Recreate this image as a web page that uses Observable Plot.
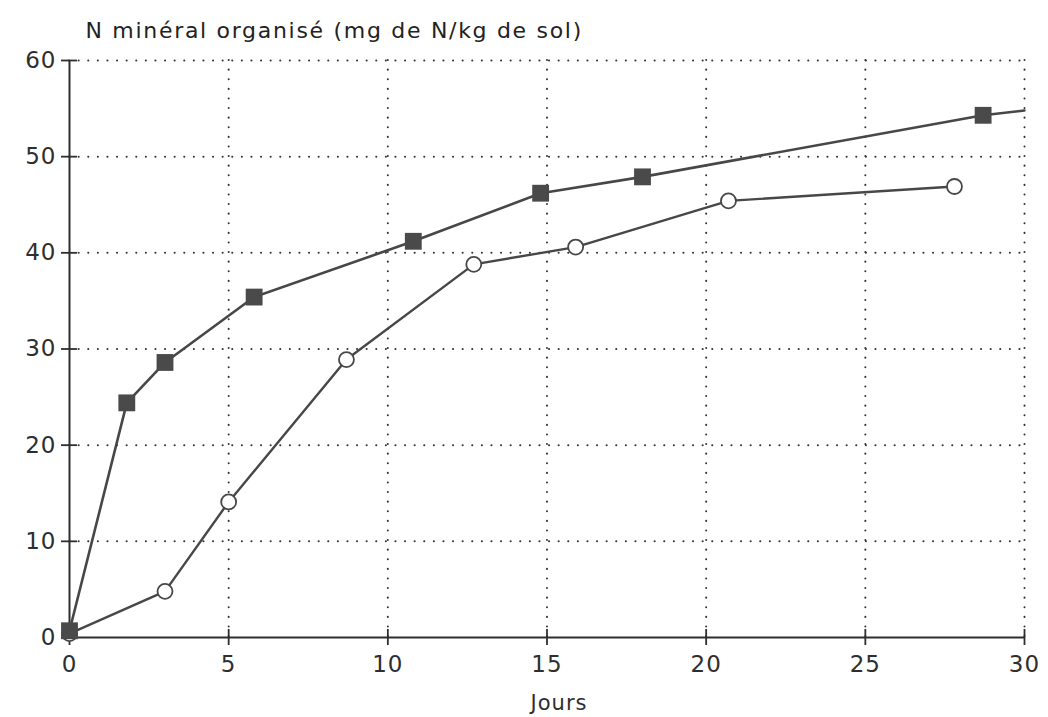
<!DOCTYPE html>
<html>
<head>
<meta charset="utf-8">
<script src="https://cdn.jsdelivr.net/npm/d3@7"></script>
<script src="https://cdn.jsdelivr.net/npm/@observablehq/plot@0.6"></script>
<style>
  html, body { margin: 0; padding: 0; background: #fff; }
  #chart svg { display: block; }
</style>
</head>
<body>
<div id="chart"></div>
<script>
// Data
const squareDays = [0, 1.8, 3.0, 5.8, 10.8, 14.8, 18.0, 28.7];
const squareVals = [0.7, 24.4, 28.6, 35.4, 41.2, 46.2, 47.9, 54.3];
const squareTailDay = 30;      // line continues to the right frame edge
const squareTailVal = 54.8;

const circleDays = [0, 3.0, 5.0, 8.7, 12.7, 15.9, 20.7, 27.8];
const circleVals = [0.4, 4.8, 14.1, 28.9, 38.8, 40.6, 45.4, 46.9];

const xTicks = [0, 5, 10, 15, 20, 25, 30];
const yTicks = [0, 10, 20, 30, 40, 50, 60];

const titleText = "N minéral organisé (mg de N/kg de sol)";
const xLabel = "Jours";

const squares = squareDays.map((d, i) => ({day: d, val: squareVals[i]}));
const squareLine = [...squares, {day: squareTailDay, val: squareTailVal}];
const circles = circleDays.map((d, i) => ({day: d, val: circleVals[i]}));

const ink = "#2e2e2e";
const lineInk = "#474747";
const font = "DejaVu Sans, sans-serif";

const chart = Plot.plot({
  width: 1048,
  height: 717,
  marginLeft: 69,
  marginRight: 24,
  marginTop: 60,
  marginBottom: 80,
  style: {fontFamily: font, color: ink, background: "#fff"},
  x: {domain: [0, 30]},
  y: {domain: [0, 60]},
  marks: [
    // dotted grid
    Plot.ruleY(yTicks.filter(d => d > 0), {y: d => d, stroke: "#333", strokeWidth: 2, strokeDasharray: "0.1 9.5", strokeLinecap: "round"}),
    Plot.ruleX(xTicks.filter(d => d > 0), {x: d => d, stroke: "#333", strokeWidth: 2, strokeDasharray: "0.1 9.5", strokeLinecap: "round"}),
    // axis lines
    Plot.ruleY([0], {stroke: ink, strokeWidth: 2}),
    Plot.ruleX([0], {stroke: ink, strokeWidth: 2}),
    // crossing tick marks
    Plot.ruleY(yTicks, {y: d => d, x1: 0, x2: 0, insetLeft: -8, insetRight: -8, stroke: ink, strokeWidth: 1.8}),
    Plot.ruleX(xTicks, {x: d => d, y1: 0, y2: 0, insetTop: -8, insetBottom: -8, stroke: ink, strokeWidth: 1.8}),
    // axis labels
    Plot.axisY(yTicks, {tickSize: 0, tickPadding: 13, fontSize: 23, label: null, fill: ink}),
    Plot.axisX(xTicks, {tickSize: 0, tickPadding: 18, fontSize: 23, label: null, fill: ink}),
    Plot.text([xLabel], {frameAnchor: "bottom", dy: 72, dx: 12, fontSize: 21, fill: ink}),
    Plot.text([titleText], {frameAnchor: "top-left", textAnchor: "start", dx: 16, dy: -38, fontSize: 22, fill: "#222"}),
    // series
    Plot.line(squareLine, {x: "day", y: "val", stroke: lineInk, strokeWidth: 2.6}),
    Plot.line(circles, {x: "day", y: "val", stroke: lineInk, strokeWidth: 2.4}),
    Plot.dot(circles, {x: "day", y: "val", r: 7.5, stroke: lineInk, strokeWidth: 1.8, fill: "white"}),
    Plot.dot(squares, {x: "day", y: "val", symbol: "square", r: 9.5, fill: "#4a4a4a", stroke: "none"})
  ]
});

// widen the lettering to match the reference's broad typeface
d3.select(chart).selectAll("text").each(function () {
  const t = this.textContent;
  if (t === titleText) this.style.letterSpacing = "1.7px";
  else if (t === xLabel) this.style.letterSpacing = "1px";
  else this.style.letterSpacing = "1px";
});

document.getElementById("chart").appendChild(chart);
</script>
</body>
</html>
